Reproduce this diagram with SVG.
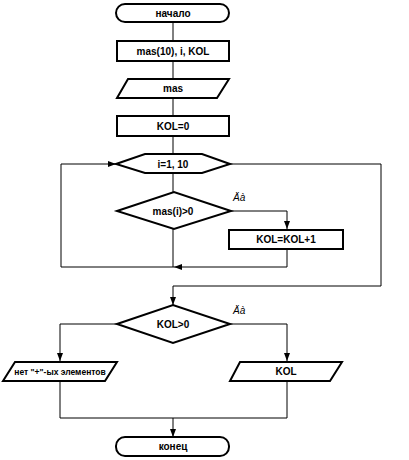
<svg xmlns="http://www.w3.org/2000/svg" width="409" height="460" viewBox="0 0 409 460">
<style>
.s{fill:#fff;stroke:#000;stroke-width:2}
.c{fill:none;stroke:#000;stroke-width:1}
text{font-family:"Liberation Sans",Arial,sans-serif;font-size:10px;font-weight:bold;text-anchor:middle;fill:#000}
.sm{font-size:8.5px}
.it{font-style:italic;font-weight:normal;font-size:10px;text-anchor:start}
</style>
<defs>
<marker id="a" markerWidth="8" markerHeight="6" refX="8" refY="3" orient="auto" markerUnits="userSpaceOnUse">
<path d="M0,0 L8,3 L0,6 Z" fill="#000"/>
</marker>
</defs>
<g id="connectors">
<path class="c" d="M173,23 V40"/>
<path class="c" d="M173,61 V79"/>
<path class="c" d="M173,98 V116"/>
<path class="c" d="M173,136 V154"/>
<path class="c" d="M173,173 V192"/>
<path class="c" d="M231,211 H287 V229" marker-end="url(#a)"/>
<path class="c" d="M173,229 V267"/>
<path class="c" d="M287,249 V267 H174" marker-end="url(#a)"/>
<path class="c" d="M174,267 H61 V164 H116" marker-end="url(#a)"/>
<path class="c" d="M230,164 H381 V286 H173 V305" marker-end="url(#a)"/>
<path class="c" d="M117,324 H60 V361" marker-end="url(#a)"/>
<path class="c" d="M230,324 H287 V361" marker-end="url(#a)"/>
<path class="c" d="M60,381 V418 H287 V381"/>
<path class="c" d="M173,418 V437" marker-end="url(#a)"/>
</g>
<g id="start"><rect class="s" x="116" y="4" width="113" height="18" rx="9"/><text x="173" y="17">начало</text></g>
<g id="decl"><rect class="s" x="117" y="41" width="112" height="20"/><text x="173" y="55">mas(10), i, KOL</text></g>
<g id="input"><polygon class="s" points="128,79 229,79 217,98 117,98"/><text x="173" y="92">mas</text></g>
<g id="init"><rect class="s" x="117" y="116" width="112" height="20"/><text x="173" y="130">KOL=0</text></g>
<g id="loop"><polygon class="s" points="116,164 145,154 202,154 230,164 202,173 145,173"/><text x="173" y="168">i=1,  10</text></g>
<g id="cond1"><polygon class="s" points="117,211 174,192 231,211 174,229"/><text x="173" y="215">mas(i)&gt;0</text></g>
<text class="it" x="233" y="201">Äà</text>
<g id="inc"><rect class="s" x="229" y="230" width="114" height="19"/><text x="286" y="243">KOL=KOL+1</text></g>
<g id="cond2"><polygon class="s" points="117,324 173,305 230,324 173,343"/><text x="173" y="328">KOL&gt;0</text></g>
<text class="it" x="233" y="314">Äà</text>
<g id="outno"><polygon class="s" points="15,362 117,362 105,381 3,381"/><text class="sm" x="60" y="375">нет "+"-ых элементов</text></g>
<g id="outyes"><polygon class="s" points="240,362 342,362 330,381 230,381"/><text x="286" y="375">KOL</text></g>
<g id="end"><rect class="s" x="116" y="437" width="113" height="19" rx="9"/><text x="173" y="450">конец</text></g>
</svg>
